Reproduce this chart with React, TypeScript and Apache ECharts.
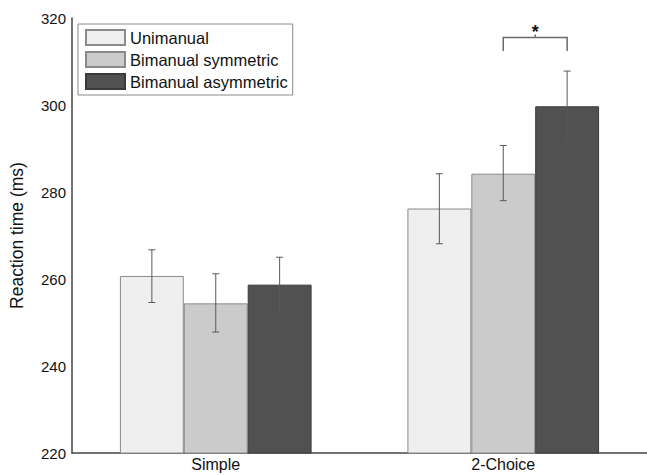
import React, { useEffect, useRef } from "react";
import * as echarts from "echarts";

const categories = ["Simple", "2-Choice"];
const seriesNames = ["Unimanual", "Bimanual symmetric", "Bimanual asymmetric"];
const uniMeans = [260.7, 276.2];
const symMeans = [254.4, 284.2];
const asymMeans = [258.7, 299.7];
const uniErr = [[254.6, 266.7], [268.1, 284.2]];
const symErr = [[247.8, 261.2], [278.0, 290.7]];
const asymErr = [[252.5, 265.0], [291.8, 307.8]];
// significance bracket: category, series index from/to, leg bottom, bracket top, label
const sigCategory = 1;
const sigFrom = 1;
const sigTo = 2;
const sigLegBottom = 312.4;
const sigTop = 315.5;
const sigLabel = "*";
const yTicks = { min: 220, max: 320, interval: 20 };

const FONT = "Liberation Sans, Arial, Helvetica, sans-serif";
const fills = ["#efefef", "#cbcbcb", "#515151"];
const borders = ["#8a8a8a", "#8a8a8a", "#3a3a3a"];
const CAT_GAP = 1 / 3;

function barOffset(bandWidth: number, idx: number) {
  const barW = (bandWidth * (1 - CAT_GAP)) / 3;
  return (idx - 1) * barW;
}

export default function App() {
  const ref = useRef<HTMLDivElement>(null);
  useEffect(() => {
    document.body.style.margin = "0";
    const chart = echarts.init(ref.current!, null, { renderer: "svg" });
    const means = [uniMeans, symMeans, asymMeans];
    const errs = [uniErr, symErr, asymErr];

    const barSeries = seriesNames.map((name, i) => ({
      name,
      type: "bar",
      data: means[i],
      barGap: "0%",
      barCategoryGap: "33.33%",
      itemStyle: { color: fills[i], borderColor: borders[i], borderWidth: 1 },
      z: 2,
    }));

    const errSeries = seriesNames.map((name, i) => ({
      name: name + " err",
      type: "custom",
      data: errs[i].map((e, c) => [c, e[0], e[1]]),
      z: 5,
      renderItem: (params: any, api: any) => {
        const c = api.value(0);
        const lo = api.coord([c, api.value(1)]);
        const hi = api.coord([c, api.value(2)]);
        const bw = api.size([1, 0])[0];
        const x = lo[0] + barOffset(bw, i);
        const cap = 3.5;
        const style = { stroke: "#5a5a5a", lineWidth: 1 };
        return {
          type: "group",
          children: [
            { type: "line", shape: { x1: x, y1: lo[1], x2: x, y2: hi[1] }, style },
            { type: "line", shape: { x1: x - cap, y1: lo[1], x2: x + cap, y2: lo[1] }, style },
            { type: "line", shape: { x1: x - cap, y1: hi[1], x2: x + cap, y2: hi[1] }, style },
          ],
        };
      },
    }));

    const sigSeries = {
      name: "sig",
      type: "custom",
      data: [[sigCategory, sigLegBottom, sigTop]],
      z: 6,
      renderItem: (params: any, api: any) => {
        const c = api.value(0);
        const b = api.coord([c, api.value(1)]);
        const t = api.coord([c, api.value(2)]);
        const bw = api.size([1, 0])[0];
        const x1 = b[0] + barOffset(bw, sigFrom);
        const x2 = b[0] + barOffset(bw, sigTo);
        const xm = (x1 + x2) / 2;
        const style = { stroke: "#6a6a6a", lineWidth: 1.5, fill: "none" };
        return {
          type: "group",
          children: [
            {
              type: "polyline",
              shape: { points: [[x1, b[1]], [x1, t[1]], [x2, t[1]], [x2, b[1]]] },
              style,
            },
            { type: "line", shape: { x1: xm, y1: t[1], x2: xm, y2: t[1] - 3 }, style },
            {
              type: "text",
              style: {
                text: sigLabel,
                x: xm,
                y: t[1] + 3,
                align: "center",
                verticalAlign: "bottom",
                font: "bold 18px " + FONT,
                fill: "#111",
              },
            },
          ],
        };
      },
    };

    chart.setOption({
      animation: false,
      backgroundColor: "#ffffff",
      textStyle: { fontFamily: FONT },
      grid: { left: 72, right: 0, top: 18, bottom: 22 },
      legend: {
        data: seriesNames,
        orient: "vertical",
        left: 78,
        top: 24,
        itemWidth: 39,
        itemHeight: 15,
        itemGap: 5,
        padding: [5, 5, 5, 7],
        borderColor: "#8a8a8a",
        borderWidth: 1,
        backgroundColor: "#ffffff",
        textStyle: { fontSize: 16.5, color: "#111", fontFamily: FONT },
        icon: "rect",
        selectedMode: false,
      },
      xAxis: {
        type: "category",
        data: categories,
        axisLine: { lineStyle: { color: "#444", width: 1.5 } },
        axisTick: { show: false },
        axisLabel: { fontSize: 16, color: "#111", margin: 3, fontFamily: FONT },
      },
      yAxis: {
        type: "value",
        min: yTicks.min,
        max: yTicks.max,
        interval: yTicks.interval,
        name: "Reaction time (ms)",
        nameLocation: "middle",
        nameGap: 46,
        nameTextStyle: { fontSize: 17.5, color: "#111", fontFamily: FONT },
        axisLine: { show: true, lineStyle: { color: "#444", width: 1.5 } },
        axisTick: { show: false },
        splitLine: { show: false },
        axisLabel: { fontSize: 15, color: "#111", margin: 6, fontFamily: FONT },
      },
      series: [...barSeries, ...errSeries, sigSeries],
    });
    return () => chart.dispose();
  }, []);
  return <div ref={ref} style={{ width: 647, height: 475 }} />;
}
